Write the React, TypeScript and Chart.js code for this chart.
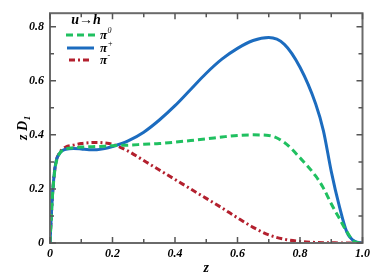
import React, { useEffect, useRef } from 'react';
import { Chart, registerables } from 'chart.js';

Chart.register(...registerables);

const zValues = [0, 0.005, 0.01, 0.015, 0.02, 0.03, 0.04, 0.05, 0.075, 0.1, 0.125, 0.15, 0.175, 0.2, 0.25, 0.3, 0.35, 0.4, 0.45, 0.5, 0.55, 0.6, 0.65, 0.7, 0.75, 0.8, 0.85, 0.875, 0.9, 0.925, 0.95, 0.975, 1.0];
const piZero = [0, 0.12, 0.205, 0.265, 0.3, 0.33, 0.343, 0.348, 0.352, 0.355, 0.356, 0.357, 0.358, 0.36, 0.362, 0.365, 0.368, 0.373, 0.379, 0.385, 0.392, 0.398, 0.4, 0.398, 0.372, 0.315, 0.248, 0.203, 0.145, 0.093, 0.042, 0.004, 0];
const piPlus = [0, 0.12, 0.21, 0.27, 0.305, 0.33, 0.342, 0.347, 0.35, 0.348, 0.345, 0.345, 0.349, 0.357, 0.378, 0.41, 0.455, 0.508, 0.568, 0.628, 0.68, 0.72, 0.749, 0.76, 0.735, 0.65, 0.515, 0.415, 0.265, 0.14, 0.04, 0.006, 0];
const piMinus = [0, 0.12, 0.21, 0.27, 0.305, 0.333, 0.347, 0.355, 0.362, 0.368, 0.371, 0.372, 0.37, 0.365, 0.34, 0.305, 0.27, 0.235, 0.2, 0.165, 0.13, 0.093, 0.058, 0.03, 0.014, 0.006, 0.002, 0.001, 0.001, 0, 0, 0, 0];

const xMajorTicks = [0, 0.2, 0.4, 0.6, 0.8, 1.0];
const xMinorTicks = [0.1, 0.3, 0.5, 0.7, 0.9];
const yMajorTicks = [0, 0.2, 0.4, 0.6, 0.8];
const yMinorTicks = [0.1, 0.3, 0.5, 0.7];
const xTickLabels = ['0', '0.2', '0.4', '0.6', '0.8', '1.0'];
const yTickLabels = ['0', '0.2', '0.4', '0.6', '0.8'];

const legendTitle = 'u→h';
const seriesNames = ['π', 'π', 'π'];
const seriesSups = ['0', '+', '-'];
const seriesColors = ['#20c060', '#1c6cbf', '#b3202e'];
const seriesDashes: number[][] = [[7, 4], [], [6, 3, 2, 3]];
const xTitle = 'z';
const yTitleMain = 'z D';
const yTitleSub = '1';

const FONT = "'Times New Roman', 'Liberation Serif', serif";

export default function App() {
  const ref = useRef<HTMLCanvasElement>(null);

  useEffect(() => {
    document.body.style.margin = '0';
    const canvas = ref.current!;

    const decor = {
      id: 'decor',
      afterDraw(chart: any) {
        const ctx = chart.ctx as CanvasRenderingContext2D;
        const { left, right, top, bottom } = chart.chartArea;
        const xs = chart.scales.x;
        const ys = chart.scales.y;
        ctx.save();
        ctx.strokeStyle = '#6a6a6a';
        ctx.lineWidth = 2;
        ctx.setLineDash([]);
        ctx.strokeRect(left, top, right - left, bottom - top);
        ctx.lineWidth = 1.5;
        ctx.strokeStyle = '#555';
        const drawX = (v: number, len: number) => {
          const p = xs.getPixelForValue(v);
          ctx.beginPath();
          ctx.moveTo(p, bottom);
          ctx.lineTo(p, bottom - len);
          ctx.moveTo(p, top);
          ctx.lineTo(p, top + len);
          ctx.stroke();
        };
        const drawY = (v: number, len: number) => {
          const p = ys.getPixelForValue(v);
          ctx.beginPath();
          ctx.moveTo(left, p);
          ctx.lineTo(left + len, p);
          ctx.moveTo(right, p);
          ctx.lineTo(right - len, p);
          ctx.stroke();
        };
        xMajorTicks.forEach((v) => drawX(v, 6));
        xMinorTicks.forEach((v) => drawX(v, 4));
        yMajorTicks.forEach((v) => drawY(v, 6));
        yMinorTicks.forEach((v) => drawY(v, 4));

        ctx.fillStyle = '#000';
        ctx.font = `italic bold 14px ${FONT}`;
        ctx.textAlign = 'center';
        ctx.textBaseline = 'alphabetic';
        ctx.fillText(xTitle, (left + right) / 2, 272);

        ctx.save();
        ctx.translate(27, (top + bottom) / 2);
        ctx.rotate(-Math.PI / 2);
        ctx.font = `italic bold 14px ${FONT}`;
        const wMain = ctx.measureText(yTitleMain).width;
        ctx.font = `italic bold 9px ${FONT}`;
        const wSub = ctx.measureText(yTitleSub).width;
        const start = -(wMain + wSub) / 2;
        ctx.textAlign = 'left';
        ctx.font = `italic bold 14px ${FONT}`;
        ctx.fillText(yTitleMain, start, 0);
        ctx.font = `italic bold 9px ${FONT}`;
        ctx.fillText(yTitleSub, start + wMain + 0.5, 3);
        ctx.restore();

        ctx.font = `italic bold 14px ${FONT}`;
        ctx.textAlign = 'center';
        ctx.textBaseline = 'middle';
        ctx.fillText(legendTitle, 86, 20);
        const rows = [35, 48, 60];
        const segs = [[66, 95], [67, 94], [69, 91]];
        rows.forEach((y, i) => {
          ctx.strokeStyle = seriesColors[i];
          ctx.lineWidth = 3;
          ctx.setLineDash(seriesDashes[i]);
          ctx.beginPath();
          ctx.moveTo(segs[i][0], y);
          ctx.lineTo(segs[i][1], y);
          ctx.stroke();
          ctx.setLineDash([]);
          ctx.fillStyle = '#000';
          ctx.textAlign = 'left';
          ctx.font = `italic bold 13px ${FONT}`;
          ctx.fillText(seriesNames[i], 100, y + 1);
          const w = ctx.measureText(seriesNames[i]).width;
          ctx.font = `italic 8px ${FONT}`;
          ctx.fillText(seriesSups[i], 100 + w + 0.5, y - 4);
        });
        ctx.restore();
      },
    };

    const mk = (data: number[], i: number) => ({
      label: seriesNames[i] + seriesSups[i],
      data: zValues.map((z, k) => ({ x: z, y: data[k] })),
      borderColor: seriesColors[i],
      backgroundColor: seriesColors[i],
      borderWidth: 3,
      borderDash: seriesDashes[i],
      pointRadius: 0,
      cubicInterpolationMode: 'monotone' as const,
      fill: false,
    });

    const tickFont = { family: FONT, size: 12, style: 'italic' as const, weight: 'bold' as const };

    const chart = new Chart(canvas, {
      type: 'line',
      data: {
        datasets: [mk(piZero, 0), mk(piPlus, 1), mk(piMinus, 2)],
      },
      plugins: [decor],
      options: {
        animation: false,
        responsive: true,
        maintainAspectRatio: false,
        layout: { padding: { top: 8, right: 10, left: 0, bottom: 0 } },
        plugins: { legend: { display: false }, tooltip: { enabled: false } },
        scales: {
          x: {
            type: 'linear',
            min: 0,
            max: 1,
            grid: { display: false, drawTicks: false },
            border: { display: false },
            ticks: {
              autoSkip: false,
              maxRotation: 0,
              padding: 4,
              color: '#000',
              font: tickFont,
              callback: (_v: any, i: number) => xTickLabels[i],
            },
            afterBuildTicks: (s: any) => { s.ticks = xMajorTicks.map((v) => ({ value: v })); },
            afterFit: (s: any) => { s.height = 37; },
          },
          y: {
            type: 'linear',
            min: 0,
            max: 0.85,
            grid: { display: false, drawTicks: false },
            border: { display: false },
            ticks: {
              autoSkip: false,
              padding: 6,
              color: '#000',
              font: tickFont,
              callback: (_v: any, i: number) => yTickLabels[i],
            },
            afterBuildTicks: (s: any) => { s.ticks = yMajorTicks.map((v) => ({ value: v })); },
            afterFit: (s: any) => { s.width = 50; },
          },
        },
      },
    });
    return () => chart.destroy();
  }, []);

  return (
    <div style={{ width: 374, height: 280, position: 'relative' }}>
      <canvas ref={ref} />
    </div>
  );
}
